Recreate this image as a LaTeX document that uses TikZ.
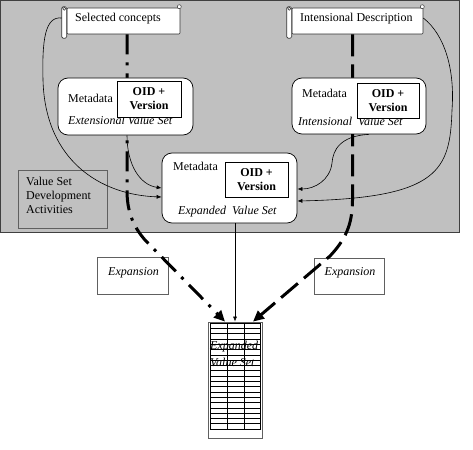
\documentclass[tikz,border=0pt]{standalone}
\usepackage{fontspec}
\setmainfont{Liberation Serif}
\usetikzlibrary{arrows.meta,calc}
\definecolor{bg}{HTML}{C0C0C0}
\definecolor{edge}{HTML}{606060}
\tikzset{
  lbl/.style={font=\fontsize{12}{14}\selectfont, inner sep=0pt, text height=8pt, text depth=0pt},
  ilbl/.style={lbl, font=\fontsize{12}{14}\selectfont\itshape},
  rbox/.style={draw=black, fill=white, line width=0.7pt, rounded corners=10pt, inner sep=0pt},
  oidbox/.style={draw=black, fill=white, line width=0.7pt, inner sep=0pt, align=center,
    font=\fontsize{12}{14}\selectfont\bfseries},
  scrollbody/.style={draw=black!80, fill=white, line width=0.6pt, inner sep=0pt, rounded corners=1pt},
  plainbox/.style={draw=edge, fill=white, line width=0.8pt, inner sep=0pt},
  thinarrow/.style={draw=black, line width=0.6pt, -{Latex[length=5pt,width=4pt]}},
  dashdotline/.style={draw=black, line width=3pt, dash pattern=on 20pt off 8pt on 3pt off 8pt,
    -{Triangle[length=11pt,width=10pt]}},
  dashline/.style={draw=black, line width=3pt, dash pattern=on 22pt off 8pt,
    -{Triangle[length=11pt,width=10pt]}},
}
\begin{document}
\begin{tikzpicture}[x=1pt,y=-1pt]
\useasboundingbox (0,0) rectangle (473,449);
% grey background
\path[fill=bg, draw=black!75, line width=0.8pt] (0,0) rectangle (459,232);

% scrolls
\node[scrollbody, minimum width=113pt, minimum height=26pt] (sc) at (123.5,21) {};
\draw[fill=white, draw=black!80, line width=0.6pt, rounded corners=1.5pt]
  ([xshift=-5pt,yshift=1pt]sc.north west) rectangle ([yshift=-4pt]sc.south west);
\draw[fill=white, draw=black!80, line width=0.5pt] ([xshift=-2.5pt,yshift=-1pt]sc.north west) circle (1.5pt);
\draw[fill=white, draw=black!80, line width=0.5pt] ([xshift=-1pt,yshift=1pt]sc.north east) circle (2pt);
\node[lbl, anchor=west] (scl) at (75,18) {Selected concepts};

\node[scrollbody, minimum width=131pt, minimum height=26pt] (id) at (357.5,21) {};
\draw[fill=white, draw=black!80, line width=0.6pt, rounded corners=1.5pt]
  ([xshift=-5pt,yshift=1pt]id.north west) rectangle ([yshift=-4pt]id.south west);
\draw[fill=white, draw=black!80, line width=0.5pt] ([xshift=-2.5pt,yshift=-1pt]id.north west) circle (1.5pt);
\draw[fill=white, draw=black!80, line width=0.5pt] ([xshift=-1pt,yshift=1pt]id.north east) circle (2pt);
\node[lbl, anchor=west] (idl) at (300,18) {Intensional Description};

% development activities box
\node[draw=edge, fill=bg, line width=1pt, minimum width=89pt, minimum height=58pt, inner sep=0pt] (vsda) at (62.5,199) {};
\node[lbl, anchor=west] (vsda1) at (26,181) {Value Set};
\node[lbl, anchor=west] (vsda2) at (26,195) {Development};
\node[lbl, anchor=west] (vsda3) at (26,209) {Activities};

% expansion boxes
\node[plainbox, minimum width=71pt, minimum height=37pt] (exl) at (133,275.5) {};
\node[ilbl] (exll) at (133.5,271) {Expansion};
\node[plainbox, minimum width=70pt, minimum height=36pt] (exr) at (349,276) {};
\node[ilbl] (exrl) at (350,271) {Expansion};

% table
\node[draw=edge, fill=white, line width=0.8pt, minimum width=54pt, minimum height=116pt, inner sep=0pt] (tbl) at (235,380) {};
\draw[line width=0.5pt] (210,323) rectangle (260,429);
\draw[line width=0.5pt] (227,323) -- (227,429) (244,323) -- (244,429);
\foreach \i in {1,...,19} { \draw[line width=0.5pt] (210,{323+\i*5.3}) -- (260,{323+\i*5.3}); }
\node[ilbl, anchor=west] (tbl1) at (210,345) {Expanded};
\node[ilbl, anchor=west] (tbl2) at (210,362) {Value Set};

% thick flow lines (behind the value set boxes)
\draw[dashdotline] ([xshift=3.5pt]sc.south) -- (127,190) .. controls (127,210) and (132,225) .. (145,240) -- ([xshift=-10pt]tbl.north);
\draw[dashline] ([xshift=-5pt]id.south) -- (352.5,200) .. controls (352.5,225) and (345,240) .. (330,256) -- ([xshift=18pt]tbl.north);

% extensional value set
\node[rbox, minimum width=135pt, minimum height=57pt] (ext) at (125.5,106.5) {};
\node[lbl, anchor=west] (extm) at (68,99) {Metadata};
\node[ilbl, anchor=west] (exti) at (68,121) {Extensional Value Set};
\node[oidbox, minimum width=64pt, minimum height=36pt] (exto) at (149,99) {OID +\\Version};

% intensional value set
\node[rbox, minimum width=134pt, minimum height=56pt] (int) at (359,106) {};
\node[lbl, anchor=west] (intm) at (302,94) {Metadata};
\node[ilbl, anchor=west] (inti) at (298,122) {Intensional\hspace{3pt} Value Set};
\node[oidbox, minimum width=62pt, minimum height=35pt] (into) at (388,100.5) {OID +\\Version};

% expanded value set
\node[rbox, minimum width=135pt, minimum height=70pt] (exp) at (229.5,188) {};
\node[lbl, anchor=west] (expm) at (173,167) {Metadata};
\node[ilbl, anchor=west] (expi) at (178,210) {Expanded\hspace{3pt} Value Set};
\node[oidbox, minimum width=63pt, minimum height=35pt] (expo) at (256.5,179.5) {OID +\\Version};

% thin connectors
\draw[thinarrow] ([xshift=-5pt,yshift=3pt]sc.west) .. controls (45,16) and (42,40) .. (43,80)
  .. controls (45,160) and (100,195) .. ([yshift=-9pt]exp.west);
\draw[thinarrow] ([xshift=1.5pt]ext.south) .. controls (127,165) and (140,185) .. (exp.west);
\draw[thinarrow] ([xshift=10pt]int.south) .. controls (340,136) and (333,150) .. (332,163)
  .. controls (330,180) and (315,189) .. ([yshift=-1pt]exp.east);
\draw[thinarrow] ([yshift=3pt]id.east) .. controls (445,35) and (455,70) .. (452,110)
  .. controls (450,170) and (440,198) .. ([yshift=-13pt]exp.east);
\draw[thinarrow] (tbl.north |- exp.south) -- (tbl.north);
\end{tikzpicture}
\end{document}
